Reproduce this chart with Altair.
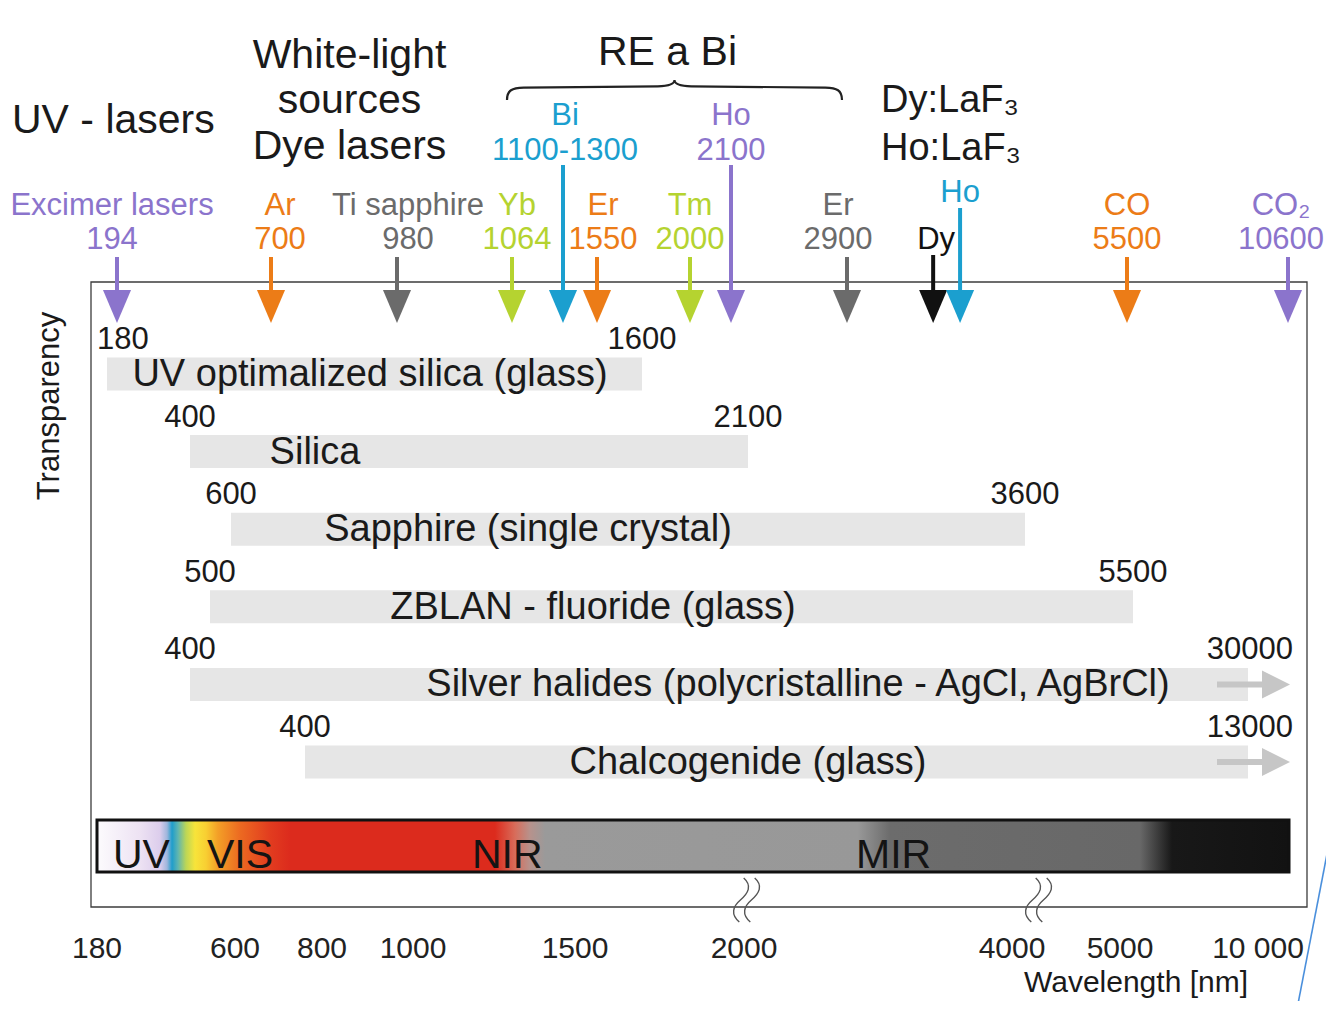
import altair as alt
import pandas as pd

FONT = "Liberation Sans"
INK = "#1a1a1a"

# ---------------- data ----------------
header_uv = "UV - lasers"
header_white = ["White-light", "sources", "Dye lasers"]
header_re = "RE a Bi"
header_laf = ["Dy:LaF\u2083", "Ho:LaF\u2083"]

laser_names = ["Excimer lasers", "Ar", "Ti sapphire", "Yb", "Bi", "Er", "Tm", "Ho",
               "Er", "Dy", "Ho", "CO", "CO\u2082"]
laser_labels = ["194", "700", "980", "1064", "1100-1300", "1550", "2000", "2100",
                "2900", "", "", "5500", "10600"]
laser_nm = [194, 700, 980, 1064, 1200, 1550, 2000, 2100, 2900, 3700, 3950, 5500, 10600]
laser_hue = ["violet", "orange", "grey", "lime", "cyan", "orange", "lime", "violet",
             "grey", "black", "cyan", "orange", "violet"]
laser_tier = ["low", "low", "low", "low", "high", "low", "low", "high", "low", "dy", "ho",
              "low", "low"]

materials = ["UV optimalized silica (glass)", "Silica", "Sapphire (single crystal)",
             "ZBLAN - fluoride (glass)",
             "Silver halides (polycristalline - AgCl, AgBrCl)", "Chalcogenide (glass)"]
mat_start = [180, 400, 600, 500, 400, 400]
mat_end = [1600, 2100, 3600, 5500, 30000, 13000]

axis_ticks = [180, 600, 800, 1000, 1500, 2000, 4000, 5000, 10000]
axis_tick_labels = ["180", "600", "800", "1000", "1500", "2000", "4000", "5000", "10 000"]
spectrum_nm = [180, 10600]
region_names = ["UV", "VIS", "NIR", "MIR"]
y_title = "Transparency"
x_title = "Wavelength [nm]"

# ---------------- layout / style ----------------
OFF = 8


def P(v):
    return v - OFF


COLORS = {"violet": "#8b74cc", "orange": "#ec7c17", "grey": "#6b6b6b",
          "lime": "#b5d330", "cyan": "#1b9fcf", "black": "#111111"}
TIER = {"low": (215, 249, 257), "high": (125, 160, 165),
        "dy": (249, None, 255), "ho": (202, None, 208)}
LABEL_DX = [-5, 9, 11, 5, 2, 6, 0, 0, -9, 3, 0, 0, -7]

LASER_NM_KNOTS = [194, 700, 980, 1064, 1200, 1550, 2000, 2100, 2900, 5500, 10600]
LASER_PX_KNOTS = [117, 271, 397, 512, 563, 597, 690, 731, 847, 1127, 1288]
BAR_NM_KNOTS = [180, 400, 500, 600, 1600, 2100, 3600, 5500, 13000]
BAR_PX_KNOTS = [107, 190, 210, 231, 642, 748, 1025, 1133, 1248]
CHALCO_NM_KNOTS = [400, 13000]
CHALCO_PX_KNOTS = [305, 1248]
AXIS_NM_KNOTS = [180, 600, 800, 1000, 1500, 2000, 4000, 5000, 10000, 10600]
AXIS_PX_KNOTS = [97, 235, 322, 413, 575, 744, 1012, 1120, 1258, 1289]

NAME_CX = [370, 315, 528, 593, 798, 748]
REGION_X = [113, 207, 472, 856]
BREAK_X = [747, 1039]

BAR_GREY = "#e6e6e6"
ARROW_GREY = "#c6c6c6"

HEAD_DOWN = "M -0.85 -1 L 0.85 -1 L 0 1 Z"
HEAD_RIGHT = "M -1 -1 L 1 0 L -1 1 Z"
BRACE = ("M -1 0.06 C -1 0.0 -0.97 -0.012 -0.9 -0.014 L -0.1 -0.022 "
         "C -0.03 -0.024 0 -0.04 0 -0.06 C 0 -0.04 0.03 -0.024 0.1 -0.022 "
         "L 0.9 -0.014 C 0.97 -0.012 1 0.0 1 0.06")
BREAK = ("M -0.15 -1 C 0.25 -0.65 0.05 -0.3 -0.3 0 C -0.65 0.3 -0.75 0.65 -0.35 1 "
         "M 0.35 -1 C 0.75 -0.65 0.55 -0.3 0.2 0 C -0.15 0.3 -0.25 0.65 0.15 1")

SPECTRUM_STOPS = [(101, "#fbf9fc"), (140, "#ede2f3"), (160, "#dccdec"), (167, "#9fb6dc"),
                  (172, "#1f9dcb"), (178, "#5fb5b0"), (186, "#bcd656"), (195, "#f7e43a"),
                  (206, "#f8cf32"), (218, "#f39f27"), (240, "#ec6a21"), (270, "#e23c1f"),
                  (290, "#dc2b1d"), (495, "#dc2b1d"), (515, "#d86c5a"), (530, "#b7928c"),
                  (545, "#9a9a9a"), (858, "#989898"), (890, "#6c6c6c"), (1140, "#686868"),
                  (1172, "#181818"), (1288, "#121212")]

dummy = pd.DataFrame({"k": [0]})


def xscale(nm, px, clamp=False):
    return alt.Scale(domain=nm, range=[P(v) for v in px], zero=False, nice=False,
                     clamp=clamp)


def text_layer(text, x, y, size, color=INK, align="left", angle=None,
               baseline="alphabetic"):
    kw = dict(fontSize=size, font=FONT, align=align, baseline=baseline, color=color)
    if angle is not None:
        kw["angle"] = angle
    return alt.Chart(dummy).mark_text(**kw).encode(
        x=alt.value(P(x)), y=alt.value(P(y)), text=alt.value(text))


layers = []

# frame
layers.append(alt.Chart(dummy).mark_rect(fill="transparent", stroke="#3c3c3c",
                                         strokeWidth=1.3).encode(
    x=alt.value(P(91)), x2=alt.value(P(1307)), y=alt.value(P(282)), y2=alt.value(P(907))))

# ---------------- materials ----------------
df_m = pd.DataFrame({"material": materials, "start": mat_start, "end": mat_end})
df_m["row"] = list(range(len(materials)))
df_m["start_txt"] = [str(v) for v in mat_start]
df_m["end_txt"] = [str(v) for v in mat_end]
df_m["open"] = [e > max(axis_ticks) for e in mat_end]
df_m["name_x"] = [P(v) for v in NAME_CX]

y_row = alt.Y("material:N", scale=alt.Scale(type="point", domain=materials,
                                            range=[P(374), P(762)], padding=0),
              axis=None)
NUM_DY = -34

for expr, nm, px in [("datum.row < 5", BAR_NM_KNOTS, BAR_PX_KNOTS),
                     ("datum.row == 5", CHALCO_NM_KNOTS, CHALCO_PX_KNOTS)]:
    sx = xscale(nm, px, clamp=True)
    base = alt.Chart(df_m).transform_filter(expr)
    layers.append(base.mark_bar(size=33, color=BAR_GREY).encode(
        x=alt.X("start:Q", scale=sx, axis=None), x2="end:Q", y=y_row))
    # continuation arrows for open-ended ranges
    layers.append(base.transform_filter("datum.open").mark_rule(
        strokeWidth=6, color=ARROW_GREY).encode(
        x=alt.value(P(1217)), x2=alt.value(P(1266)), y=y_row))
    layers.append(base.transform_filter("datum.open").mark_point(
        shape=HEAD_RIGHT, filled=True, size=784, opacity=1, color=ARROW_GREY).encode(
        x=alt.value(P(1276)), y=y_row))
    # start labels
    layers.append(base.transform_filter("datum.row > 0").mark_text(
        fontSize=31, font=FONT, color=INK, align="center", baseline="middle",
        dy=NUM_DY).encode(
        x=alt.X("start:Q", scale=sx, axis=None), y=y_row, text="start_txt:N"))
    layers.append(base.transform_filter("datum.row == 0").mark_text(
        fontSize=31, font=FONT, color=INK, align="left", baseline="middle", dx=-10,
        dy=NUM_DY).encode(
        x=alt.X("start:Q", scale=sx, axis=None), y=y_row, text="start_txt:N"))
    # end labels
    layers.append(base.transform_filter("!datum.open").mark_text(
        fontSize=31, font=FONT, color=INK, align="center", baseline="middle",
        dy=NUM_DY).encode(
        x=alt.X("end:Q", scale=sx, axis=None), y=y_row, text="end_txt:N"))
    layers.append(base.transform_filter("datum.open").mark_text(
        fontSize=31, font=FONT, color=INK, align="right", baseline="middle", dx=45,
        dy=NUM_DY).encode(
        x=alt.X("end:Q", scale=sx, axis=None), y=y_row, text="end_txt:N"))

layers.append(alt.Chart(df_m).mark_text(
    fontSize=38, font=FONT, color=INK, align="center", baseline="middle", dy=1).encode(
    x=alt.X("name_x:Q", scale=None), y=y_row, text="material:N"))

# ---------------- spectrum bar & axis ----------------
sx_axis = xscale(AXIS_NM_KNOTS, AXIS_PX_KNOTS)
x0, x1 = AXIS_PX_KNOTS[0], AXIS_PX_KNOTS[-1]
stops = [alt.GradientStop(offset=min(1, max(0, (p - x0) / (x1 - x0))), color=c)
         for p, c in SPECTRUM_STOPS]
df_s = pd.DataFrame({"from_nm": [spectrum_nm[0]], "to_nm": [spectrum_nm[1]]})
layers.append(alt.Chart(df_s).mark_rect(
    fill=alt.LinearGradient(gradient="linear", stops=stops, x1=0, x2=1, y1=0, y2=0),
    stroke="#111111", strokeWidth=3).encode(
    x=alt.X("from_nm:Q", scale=sx_axis, axis=None), x2="to_nm:Q",
    y=alt.value(P(820)), y2=alt.value(P(872))))

for name, rx in zip(region_names, REGION_X):
    layers.append(text_layer(name, rx, 868, 41, color="#141414"))

for bx in BREAK_X:
    layers.append(alt.Chart(dummy).mark_point(
        shape=BREAK, filled=False, size=44 * 44, stroke="#555555", strokeWidth=1.4,
        opacity=1).encode(x=alt.value(P(bx)), y=alt.value(P(900))))

df_t = pd.DataFrame({"nm": axis_ticks, "lab": axis_tick_labels})
layers.append(alt.Chart(df_t).mark_text(
    fontSize=30, font=FONT, color="#222222", align="center", baseline="alphabetic").encode(
    x=alt.X("nm:Q", scale=sx_axis, axis=None), y=alt.value(P(958)), text="lab:N"))

layers.append(text_layer(x_title, 1136, 992, 30, align="center"))
layers.append(text_layer(y_title, 50, 406, 31, align="center", angle=270,
                         baseline="middle"))

# ---------------- headers ----------------
layers.append(text_layer(header_uv, 12, 133, 41))
for line, yy in zip(header_white, [68, 113, 159]):
    layers.append(text_layer(line, 349.5, yy, 41, align="center"))
layers.append(text_layer(header_re, 667.5, 65, 41, align="center"))
for line, yy in zip(header_laf, [112, 160]):
    layers.append(text_layer(line, 881, yy, 38))
layers.append(alt.Chart(dummy).mark_point(
    shape=BRACE, filled=False, size=335 * 335, stroke="#222222", strokeWidth=2.2,
    opacity=1).encode(x=alt.value(P(674.5)), y=alt.value(P(90))))

# ---------------- lasers ----------------
df_l = pd.DataFrame({"name": laser_names, "label": laser_labels, "nm": laser_nm,
                     "hue": laser_hue, "tier": laser_tier})
df_l["name_y"] = [P(TIER[t][0]) for t in laser_tier]
df_l["label_y"] = [P(TIER[t][1]) if TIER[t][1] is not None else P(TIER[t][0])
                   for t in laser_tier]
df_l["shaft_y"] = [P(TIER[t][2]) for t in laser_tier]
df_l["dx"] = LABEL_DX

x_laser = alt.X("nm:Q", scale=xscale(LASER_NM_KNOTS, LASER_PX_KNOTS), axis=None)
color_enc = alt.Color("hue:N", scale=alt.Scale(domain=list(COLORS),
                                               range=list(COLORS.values())), legend=None)

layers.append(alt.Chart(df_l).mark_rule(strokeWidth=4).encode(
    x=x_laser, y=alt.Y("shaft_y:Q", scale=None), y2=alt.value(P(300)), color=color_enc))
layers.append(alt.Chart(df_l).mark_point(
    shape=HEAD_DOWN, filled=True, size=33 * 33, opacity=1).encode(
    x=x_laser, y=alt.value(P(306.5)), color=color_enc))

for dx in sorted(set(LABEL_DX)):
    sub = alt.Chart(df_l).transform_filter(alt.datum.dx == dx)
    layers.append(sub.mark_text(
        dx=dx, fontSize=31, font=FONT, align="center", baseline="alphabetic").encode(
        x=x_laser, y=alt.Y("name_y:Q", scale=None), text="name:N", color=color_enc))
    layers.append(sub.transform_filter("datum.label != ''").mark_text(
        dx=dx, fontSize=31, font=FONT, align="center", baseline="alphabetic").encode(
        x=x_laser, y=alt.Y("label_y:Q", scale=None), text="label:N", color=color_enc))

# stray slide line at the right edge
layers.append(alt.Chart(dummy).mark_rule(color="#4a8fdc", strokeWidth=1.6).encode(
    x=alt.value(P(1334)), y=alt.value(P(818)), x2=alt.value(P(1297)),
    y2=alt.value(P(1009))))

chart = alt.layer(*layers).resolve_scale(
    x="independent", y="independent", color="independent"
).properties(
    width=1318, height=993, padding=0,
    autosize=alt.AutoSizeParams(type="none"), background="white"
).configure_view(stroke=None)

chart.save("out.html", embed_options={"renderer": "svg", "actions": False})
